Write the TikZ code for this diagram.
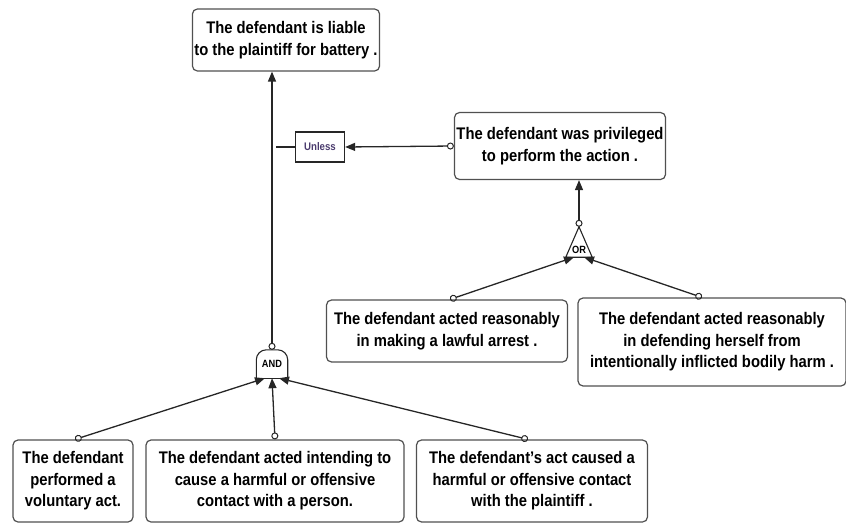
\documentclass[tikz,border=0pt]{standalone}
\usepackage{fontspec}
\setmainfont{Liberation Sans}[FakeStretch=0.88]
\usetikzlibrary{arrows.meta}

\definecolor{boxgray}{HTML}{505050}
\definecolor{unlessink}{HTML}{4B3C6E}

\tikzset{
  claim/.style={draw=boxgray, line width=1.2pt, rounded corners=5pt, align=center,
    font=\bfseries\fontsize{16.8}{21.5}\selectfont, inner sep=2pt},
  link/.style={line width=1.3pt, draw=black!85,
    {Circle[open,length=7pt,width=7pt,line width=1pt]}-{Triangle[length=10pt,width=8pt]}},
  gatetext/.style={font=\bfseries\fontsize{10.5}{11}\selectfont, inner sep=0pt}
}

\begin{document}
\begin{tikzpicture}[x=1pt,y=-1pt]
            \useasboundingbox (0,0) rectangle (846,524);

            % conclusion and exception
            \node[claim, minimum width=176, minimum height=62] (liable) at (286,40)
                {The defendant is liable\\to the plaintiff for battery .};
            \node[draw=black!85, line width=1.3pt, minimum width=49, minimum height=30,
                  font=\bfseries\fontsize{11}{12}\selectfont, text=unlessink] (unless) at (320,147) {Unless};
            \node[claim, minimum width=186, minimum height=67] (privileged) at (560,146)
                {The defendant was privileged\\to perform the action .};

            % gates
            \node[gatetext, minimum width=26, minimum height=30] (org) at (579,242) {};
            \draw[line width=1.1pt, draw=black!85] (org.south west) -- (org.north) -- (org.south east) -- cycle;
            \node[gatetext] at ([yshift=7pt]org.south) {OR};
            \node[gatetext, minimum width=31, minimum height=28] (andg) at (272,364) {AND};
            \draw[line width=1.1pt, draw=black!85, rounded corners=10pt]
                (andg.south west) -- (andg.north west) -- (andg.north east) -- (andg.south east);
            \draw[line width=1.1pt, draw=black!85] (andg.south west) -- (andg.south east);

            % defences
            \node[claim, minimum width=241, minimum height=62] (arrest) at (447,331)
                {The defendant acted reasonably\\in making a lawful arrest .};
            \node[claim, minimum width=268, minimum height=88] (selfdef) at (712,342)
                {The defendant acted reasonably\\in defending herself from\\intentionally inflicted bodily harm .};

            % elements
            \node[claim, minimum width=120, minimum height=82] (act) at (73,481)
                {The defendant\\performed a\\voluntary act.};
            \node[claim, minimum width=258, minimum height=82] (intend) at (275,481)
                {The defendant acted intending to\\cause a harmful or offensive\\contact with a person.};
            \node[claim, minimum width=231, minimum height=82] (caused) at (532,481)
                {The defendant's act caused a\\harmful or offensive contact\\with the plaintiff .};

            % connectors
            \draw[link] (andg.north) -- (andg.north |- liable.south);
            \draw[line width=1.3pt, draw=black!85] (unless.west) -- ([xshift=4pt]unless.west -| andg.north);
            \draw[link] (privileged.west) -- (unless.east);
            \draw[link] (org.north) -- (org.north |- privileged.south);
            \draw[link] ([xshift=3pt]arrest.north) -- ([xshift=-5pt]org.south);
            \draw[link] ([xshift=-10pt]selfdef.north) -- ([xshift=5pt]org.south);
            \draw[link] ([xshift=2pt]act.north) -- ([xshift=-7pt]andg.south);
            \draw[link] (intend.north) -- (andg.south);
            \draw[link] ([xshift=-4pt]caused.north) -- ([xshift=7pt]andg.south);
        \end{tikzpicture}
\end{document}
